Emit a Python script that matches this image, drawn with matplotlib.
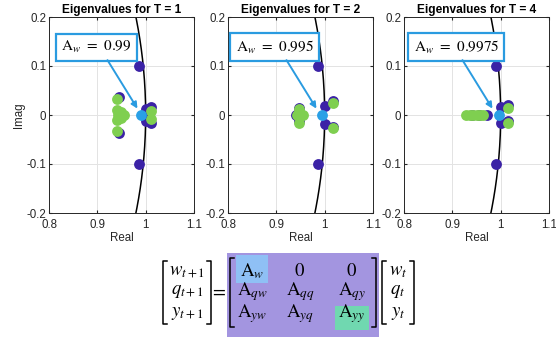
import numpy as np
import matplotlib
matplotlib.use("Agg")
import matplotlib.pyplot as plt
from matplotlib.patches import Rectangle
from matplotlib.lines import Line2D

plt.rcParams["font.family"] = ["Liberation Sans", "DejaVu Sans"]
plt.rcParams["mathtext.fontset"] = "stix"

# === ДАННЫЕ ===
titles = ["Eigenvalues for T = 1", "Eigenvalues for T = 2", "Eigenvalues for T = 4"]
aw_labels = ["0.99", "0.995", "0.9975"]
aw_values = [0.99, 0.995, 0.9975]

dark_re = [
    [0.986, 0.986, 0.945, 0.945, 1.000, 1.000, 1.010, 1.010, 0.998],
    [0.987, 0.987, 1.000, 1.000, 1.018, 1.018, 0.940, 0.947, 0.947],
    [0.990, 0.990, 1.000, 1.000, 1.015, 1.015, 0.971, 0.955, 0.940],
]
dark_im = [
    [0.100, -0.100, 0.036, -0.036, 0.012, -0.012, 0.017, -0.017, 0.000],
    [0.100, -0.100, 0.018, -0.019, 0.028, -0.024, 0.000, 0.015, -0.013],
    [0.100, -0.100, 0.017, -0.017, 0.020, -0.013, 0.000, 0.000, 0.000],
]
green_re = [
    [0.941, 0.941, 0.940, 0.940, 0.948, 0.948, 0.955, 0.942, 1.012, 1.012],
    [1.017, 1.017, 0.946, 0.946, 0.956, 0.943],
    [1.015, 1.015, 0.929, 0.936, 0.943, 0.950, 0.957, 0.963],
]
green_im = [
    [0.033, -0.033, 0.010, -0.010, 0.006, -0.006, 0.000, 0.000, 0.008, -0.008],
    [0.025, -0.027, 0.012, -0.016, 0.000, 0.000],
    [0.015, -0.017, 0.000, 0.000, 0.000, 0.000, 0.000, 0.000],
]

x_ticks = [0.8, 0.9, 1.0, 1.1]
x_tick_labels = ["0.8", "0.9", "1", "1.1"]
y_ticks = [-0.2, -0.1, 0.0, 0.1, 0.2]
y_tick_labels = ["-0.2", "-0.1", "0", "0.1", "0.2"]

matrix_entries = [
    [r"$\mathrm{A}_{w}$", r"$0$", r"$0$"],
    [r"$\mathrm{A}_{qw}$", r"$\mathrm{A}_{qq}$", r"$\mathrm{A}_{qy}$"],
    [r"$\mathrm{A}_{yw}$", r"$\mathrm{A}_{yq}$", r"$\mathrm{A}_{yy}$"],
]
lhs_entries = [r"$w_{t+1}$", r"$q_{t+1}$", r"$y_{t+1}$"]
rhs_entries = [r"$w_{t}$", r"$q_{t}$", r"$y_{t}$"]

# Цвета
C_DARK = "#3b22a6"
C_GREEN = "#7fcf50"
C_BLUE = "#2aa0e6"
C_BOX = "#2a9be0"
C_PURPLE = "#a395e0"
C_HL_BLUE = "#8fc0f5"
C_HL_GREEN = "#70d8b0"

W, H = 556, 337
fig = plt.figure(figsize=(W / 100, H / 100), dpi=100)


def fx(px):
    return px / W


def fy(py):
    return 1 - py / H


panel_left = [49, 228, 404]
circ_y = np.linspace(-0.25, 0.25, 200)
circ_x = np.sqrt(1 - circ_y ** 2)

for i in range(3):
    ax = fig.add_axes([fx(panel_left[i]), fy(213), 145 / W, 196 / H])
    ax.plot(circ_x, circ_y, color="black", lw=1.1, zorder=2)
    ax.plot(dark_re[i], dark_im[i], "o", color=C_DARK, ms=7.8, mew=0, zorder=3)
    ax.plot(green_re[i], green_im[i], "o", color=C_GREEN, ms=7.8, mew=0, zorder=4)
    ax.plot([aw_values[i]], [0], "o", color=C_BLUE, ms=7.8, mew=0, zorder=5)

    ax.set_xlim(0.8, 1.1)
    ax.set_ylim(-0.2, 0.2)
    ax.set_xticks(x_ticks)
    ax.set_xticklabels(x_tick_labels)
    ax.set_yticks(y_ticks)
    ax.set_yticklabels(y_tick_labels)
    ax.tick_params(direction="in", length=2.5, labelsize=8.3, colors="#262626",
                   top=True, right=True, pad=2)
    ax.tick_params(axis="x", pad=4.5)
    ax.grid(True, color="#e3e3e3", lw=0.7)
    ax.set_axisbelow(True)
    for s in ax.spines.values():
        s.set_color("#262626")
        s.set_linewidth(0.7)
    ax.set_title(titles[i], fontsize=8.6, fontweight="bold", pad=3)
    ax.set_xlabel("Real", fontsize=8.3, color="#262626", labelpad=0.5)
    if i == 0:
        ax.set_ylabel("Imag", fontsize=8.3, color="#262626", labelpad=1)

    # подпись A_w со стрелкой
    box_cx = [0.898, 0.896, 0.908][i]
    ax.text(box_cx, 0.138, r"$\mathrm{A}_{w}$ $=$ $%s$" % aw_labels[i], fontsize=11,
            ha="center", va="center", zorder=6,
            bbox=dict(boxstyle="square,pad=0.35", fc="white", ec=C_BOX, lw=1.6))
    ax.annotate("", xy=(0.983, 0.013), xytext=(0.921, 0.112),
                arrowprops=dict(arrowstyle="-|>", color=C_BOX, lw=1.4,
                                mutation_scale=9, shrinkA=0, shrinkB=0), zorder=6)

# === УРАВНЕНИЕ ===
fig.patches.append(Rectangle((fx(227), fy(337)), (379 - 227) / W, (337 - 253) / H,
                             transform=fig.transFigure, fc=C_PURPLE, ec="none", zorder=0))
fig.patches.append(Rectangle((fx(236), fy(283)), 32 / W, 28 / H,
                             transform=fig.transFigure, fc=C_HL_BLUE, ec="none", zorder=1))
fig.patches.append(Rectangle((fx(335), fy(330)), 34 / W, 24 / H,
                             transform=fig.transFigure, fc=C_HL_GREEN, ec="none", zorder=1))


def bracket(x, top, bot, side):
    d = 4 if side == "left" else -4
    pts_x = [fx(x + d), fx(x), fx(x), fx(x + d)]
    pts_y = [fy(top), fy(top), fy(bot), fy(bot)]
    fig.lines.append(Line2D(pts_x, pts_y, transform=fig.transFigure, color="black",
                            lw=1.1, zorder=3))


row_y = [271, 292, 314]
for r in range(3):
    fig.text(fx(187), fy(row_y[r]), lhs_entries[r], fontsize=13.5, ha="center", va="center")
    fig.text(fx(398), fy(row_y[r]), rhs_entries[r], fontsize=13.5, ha="center", va="center")
    for c, cx in enumerate([252, 300, 352]):
        fig.text(fx(cx), fy(row_y[r]), matrix_entries[r][c], fontsize=13.5,
                 ha="center", va="center", zorder=4)

fig.text(fx(218), fy(292), r"$=$", fontsize=13.5, ha="center", va="center")
bracket(163, 261, 324, "left")
bracket(211, 261, 324, "right")
bracket(230, 258, 327, "left")
bracket(376, 258, 327, "right")
bracket(382, 261, 324, "left")
bracket(414, 261, 324, "right")

fig.savefig("out.png", dpi=100)
